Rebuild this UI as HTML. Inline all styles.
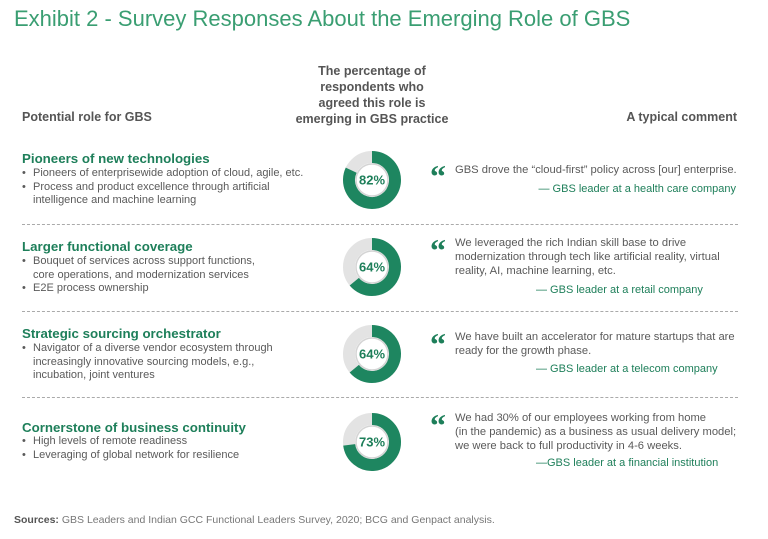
<!DOCTYPE html>
<html><head><meta charset="utf-8">
<style>
body{margin:0;background:#fff;}
#c{position:relative;width:768px;height:539px;overflow:hidden;font-family:"Liberation Sans",sans-serif;color:#555;}
.a{position:absolute;white-space:nowrap;}
.t{left:14px;top:6px;font-size:22px;color:#3a9e72;}
.hd{font-size:12.5px;font-weight:bold;color:#555;}
.h{font-size:13.3px;font-weight:bold;color:#1e7f5a;left:22px;}
.b{font-size:11px;line-height:13.6px;left:22px;color:#5a5a5a;}
.b div{padding-left:11px;position:relative;}
.b div.s:before{content:"•";position:absolute;left:0;}
.q{font-size:11.2px;line-height:13.8px;left:455px;color:#5a5a5a;}
.qm{left:430px;font-size:32px;font-weight:bold;color:#1e7f5a;font-family:"Liberation Serif",serif;line-height:32px;}
.at{font-size:11px;color:#1e7f5a;}
.dash{position:absolute;left:22px;width:716px;border-top:1px dashed #aaa;}
svg{position:absolute;left:0;top:0;}
</style></head><body>
<div id="c">
<div class="a t">Exhibit 2 - Survey Responses About the Emerging Role of GBS</div>
<div class="a hd" style="left:22px;top:110px">Potential role for GBS</div>
<div class="a hd" style="left:272px;width:200px;top:63px;text-align:center;line-height:16px;white-space:normal">The percentage of<br>respondents who<br>agreed this role is<br>emerging in GBS practice</div>
<div class="a hd" style="right:31px;top:110px">A typical comment</div>

<div class="dash" style="top:224px"></div>
<div class="dash" style="top:311px"></div>
<div class="dash" style="top:397px"></div>

<div class="a h" style="top:151px">Pioneers of new technologies</div>
<div class="a b" style="top:167px"><div class="s">Pioneers of enterprisewide adoption of cloud, agile, etc.</div><div class="s">Process and product excellence through artificial</div><div>intelligence and machine learning</div></div>
<div class="a qm" style="top:160px">“</div>
<div class="a q" style="top:164px">GBS drove the “cloud-first” policy across [our] enterprise.</div>
<div class="a at" style="right:32px;top:183px">— GBS leader at a health care company</div>

<div class="a h" style="top:239px">Larger functional coverage</div>
<div class="a b" style="top:255px"><div class="s">Bouquet of services across support functions,</div><div>core operations, and modernization services</div><div class="s">E2E process ownership</div></div>
<div class="a qm" style="top:234px">“</div>
<div class="a q" style="top:237px">We leveraged the rich Indian skill base to drive<br>modernization through tech like artificial reality, virtual<br>reality, AI, machine learning, etc.</div>
<div class="a at" style="left:536px;top:284px">— GBS leader at a retail company</div>

<div class="a h" style="top:326px">Strategic sourcing orchestrator</div>
<div class="a b" style="top:342px"><div class="s">Navigator of a diverse vendor ecosystem through</div><div>increasingly innovative sourcing models, e.g.,</div><div>incubation, joint ventures</div></div>
<div class="a qm" style="top:328px">“</div>
<div class="a q" style="top:331px">We have built an accelerator for mature startups that are<br>ready for the growth phase.</div>
<div class="a at" style="left:536px;top:363px">— GBS leader at a telecom company</div>

<div class="a h" style="top:420px">Cornerstone of business continuity</div>
<div class="a b" style="top:435px"><div class="s">High levels of remote readiness</div><div class="s">Leveraging of global network for resilience</div></div>
<div class="a qm" style="top:409px">“</div>
<div class="a q" style="top:412px">We had 30% of our employees working from home<br>(in the pandemic) as a business as usual delivery model;<br>we were back to full productivity in 4-6 weeks.</div>
<div class="a at" style="left:536px;top:457px">—GBS leader at a financial institution</div>

<div class="a" style="left:14px;top:514px;font-size:10.5px;color:#777"><b style="color:#555">Sources:</b> GBS Leaders and Indian GCC Functional Leaders Survey, 2020; BCG and Genpact analysis.</div>

<svg id="sv" width="768" height="539"></svg>
</div>
<script>
const percentages=[82,64,64,73];
const centersY=[180,267,354,442];
const cx=372, R=23, W=12;
const ns="http://www.w3.org/2000/svg";
const sv=document.getElementById('sv');
percentages.forEach((p,i)=>{
  const cy=centersY[i];
  const bg=document.createElementNS(ns,'circle');
  
  
  bg.setAttribute('cx',cx);bg.setAttribute('cy',cy);bg.setAttribute('r',R);
  bg.setAttribute('fill','none');bg.setAttribute('stroke','#e3e3e3');bg.setAttribute('stroke-width',W);
  sv.appendChild(bg);
  const a=p/100*2*Math.PI;
  const x1=cx, y1=cy-R, x2=cx+R*Math.sin(a), y2=cy-R*Math.cos(a);
  const arc=document.createElementNS(ns,'path');
  
  
  arc.setAttribute('d',`M${x1} ${y1} A${R} ${R} 0 ${p>50?1:0} 1 ${x2} ${y2}`);
  arc.setAttribute('fill','none');arc.setAttribute('stroke','#1e8660');arc.setAttribute('stroke-width',W);
  sv.appendChild(arc);
  const ring=document.createElementNS(ns,'circle');
  
  
  ring.setAttribute('cx',cx);ring.setAttribute('cy',cy);ring.setAttribute('r',R-W/2-1);
  ring.setAttribute('fill','#fff');ring.setAttribute('stroke','#d4d4d4');ring.setAttribute('stroke-width',1.5);
  sv.appendChild(ring);
  const t=document.createElementNS(ns,'text');
  
  
  t.setAttribute('x',cx);t.setAttribute('y',cy+4.5);t.setAttribute('text-anchor','middle');
  t.setAttribute('font-family','Liberation Sans, sans-serif');t.setAttribute('font-size','13');t.setAttribute('font-weight','bold');t.setAttribute('fill','#1e7f5a');
  t.textContent=p+'%';
  sv.appendChild(t);
});
</script>
</body></html>
